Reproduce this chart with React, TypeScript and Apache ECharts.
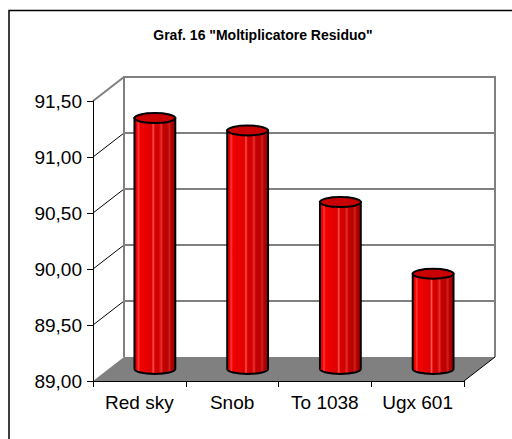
import React, { useEffect, useRef } from "react";
import * as echarts from "echarts";

const title = 'Graf. 16 "Moltiplicatore Residuo"';
const categories = ["Red sky", "Snob", "To 1038", "Ugx 601"];
const values = [91.24, 91.13, 90.49, 89.85];
const yMin = 89.0;
const yMax = 91.5;
const yStep = 0.5;
const yTicks = [89.0, 89.5, 90.0, 90.5, 91.0, 91.5];

const DX = 31;
const DY = -24;
const FONT = "'Liberation Sans', Arial, Helvetica, sans-serif";

export default function App() {
  const ref = useRef<HTMLDivElement>(null);
  useEffect(() => {
    if (!ref.current) return;
    const chart = echarts.init(ref.current, undefined, { renderer: "svg" });

    const frameItem = (params: any, api: any) => {
      const cs = params.coordSys;
      const x0 = cs.x;
      const x1 = cs.x + cs.width;
      const yb = api.coord([0, yMin])[1];
      const yt = api.coord([0, yMax])[1];
      const children: any[] = [];
      children.push({
        type: "polygon",
        shape: { points: [[x0, yb], [x0 + DX, yb + DY], [x1 + DX, yb + DY], [x1, yb]] },
        style: { fill: "#808080", stroke: "none" },
      });
      yTicks.forEach((t) => {
        const y = api.coord([0, t])[1];
        if (t !== yMin && t !== yMax) {
          const gray = t === 90.5;
          children.push({
            type: "line",
            shape: { x1: x0 + DX, y1: y + DY, x2: x1 + DX, y2: y + DY },
            style: { stroke: gray ? "#808080" : "#000", lineWidth: gray ? 2 : 1 },
          });
        }
        if (t !== yMin) {
          const top = t === yMax;
          children.push({
            type: "line",
            shape: { x1: x0, y1: y, x2: x0 + DX, y2: y + DY },
            style: { stroke: top ? "#808080" : "#000", lineWidth: top ? 2 : 1 },
          });
        }
      });
      children.push({
        type: "polyline",
        shape: { points: [[x0 + DX, yb + DY], [x0 + DX, yt + DY], [x1 + DX, yt + DY], [x1 + DX, yb + DY]] },
        style: { fill: "none", stroke: "#808080", lineWidth: 2 },
      });
      children.push({
        type: "line",
        shape: { x1: x1, y1: yb, x2: x1 + DX, y2: yb + DY },
        style: { stroke: "#000", lineWidth: 1 },
      });
      return { type: "group", children };
    };

    const barFill = new echarts.graphic.LinearGradient(0, 0, 1, 0, [
      { offset: 0, color: "#e00000" },
      { offset: 0.06, color: "#f20000" },
      { offset: 0.1, color: "#ff3a3a" },
      { offset: 0.14, color: "#f00000" },
      { offset: 0.3, color: "#e80000" },
      { offset: 0.42, color: "#dd0000" },
      { offset: 0.46, color: "#ff5050" },
      { offset: 0.5, color: "#d80000" },
      { offset: 0.6, color: "#d00000" },
      { offset: 0.66, color: "#e83030" },
      { offset: 0.7, color: "#c40000" },
      { offset: 0.8, color: "#bb0000" },
      { offset: 0.86, color: "#d02020" },
      { offset: 0.9, color: "#b00000" },
      { offset: 1, color: "#a00000" },
    ]);

    const barItem = (params: any, api: any) => {
      const idx = api.value(0);
      const val = api.value(1);
      const base = api.coord([idx, yMin]);
      const top = api.coord([idx, val]);
      const size = api.size([1, 0])[0];
      const cx = base[0] + DX / 2;
      const rx = size * 0.22;
      const ry = 5;
      const yb = base[1] + DY / 2;
      const yt = top[1] + DY / 2;
      const l = cx - rx;
      const r = cx + rx;
      const d = `M ${l} ${yt} L ${l} ${yb} A ${rx} ${ry} 0 0 0 ${r} ${yb} L ${r} ${yt} Z`;
      return {
        type: "group",
        children: [
          {
            type: "path",
            shape: { pathData: d },
            style: { fill: barFill, stroke: "#000", lineWidth: 2 },
          },
          {
            type: "ellipse",
            shape: { cx, cy: yt, rx, ry },
            style: { fill: "#c80000", stroke: "#000", lineWidth: 2 },
          },
        ],
      };
    };

    chart.setOption({
      animation: false,
      backgroundColor: "#fff",
      graphic: [
        {
          type: "rect",
          z: -10,
          silent: true,
          shape: { x: 9, y: 10.5, width: 600, height: 600 },
          style: { fill: "none", stroke: "#000", lineWidth: 1.5 },
        },
        {
          type: "text",
          x: 263,
          y: 35,
          style: {
            text: title,
            font: `bold 14px ${FONT}`,
            fill: "#000",
            textAlign: "center",
            textVerticalAlign: "middle",
          },
        },
      ],
      grid: { left: 93, right: 48, top: 101, bottom: 58, containLabel: false },
      xAxis: {
        type: "category",
        data: categories,
        z: 10,
        boundaryGap: true,
        axisLine: { lineStyle: { color: "#000", width: 1 } },
        axisTick: { show: true, alignWithLabel: false, length: 6, lineStyle: { color: "#000" } },
        axisLabel: { color: "#000", fontSize: 19, fontFamily: FONT, margin: 12, interval: 0 },
        splitLine: { show: false },
      },
      yAxis: {
        type: "value",
        min: yMin,
        max: yMax,
        interval: yStep,
        z: 10,
        axisLine: { show: true, lineStyle: { color: "#000", width: 1 } },
        axisTick: { show: true, length: 6, lineStyle: { color: "#000" } },
        axisLabel: {
          color: "#000",
          fontSize: 19,
          fontFamily: FONT,
          margin: 11,
          formatter: (v: number) => v.toFixed(2).replace(".", ","),
        },
        splitLine: { show: false },
      },
      series: [
        {
          type: "custom",
          z: 1,
          silent: true,
          renderItem: frameItem,
          data: [[0, yMin]],
          encode: { x: 0, y: 1 },
          clip: false,
        },
        {
          type: "custom",
          z: 3,
          renderItem: barItem,
          data: values.map((v, i) => [i, v]),
          encode: { x: 0, y: 1 },
          clip: false,
        },
      ],
    });
    return () => chart.dispose();
  }, []);
  return (
    <div
      ref={ref}
      style={{ position: "fixed", left: 0, top: 0, width: 512, height: 439 }}
    />
  );
}
